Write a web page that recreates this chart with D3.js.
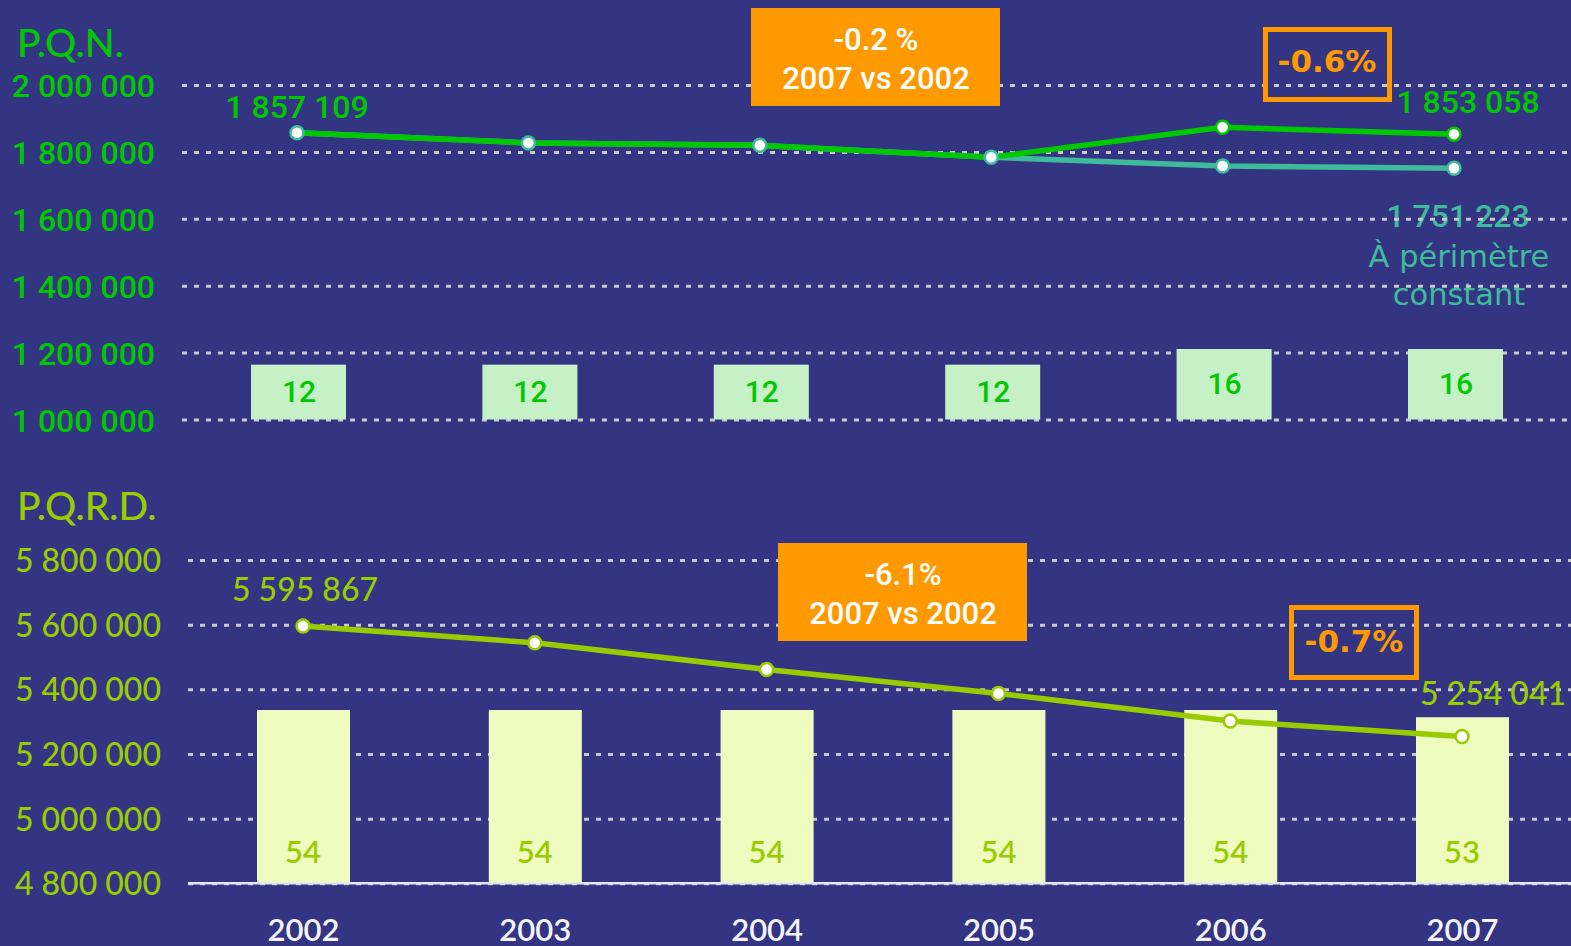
<!DOCTYPE html>
<html>
<head>
<meta charset="utf-8">
<script src="https://cdn.jsdelivr.net/npm/d3@7"></script>
<style>
  body { margin: 0; background: #333583; }
  svg { display: block; }
</style>
</head>
<body>
<svg id="chart" width="1571" height="946"></svg>
<script>
// data
const years = [2002, 2003, 2004, 2005, 2006, 2007];
const pqnValues = [1857109, 1826900, 1819800, 1783800, 1873600, 1853058];
const pqnConstant = [1857109, 1826900, 1819800, 1783800, 1758100, 1751223];
const pqnTitles = [12, 12, 12, 12, 16, 16];
const pqrdValues = [5595867, 5543700, 5461500, 5387300, 5301700, 5254041];
const pqrdTitles = [54, 54, 54, 54, 54, 53];
const pqnTicks = [1000000, 1200000, 1400000, 1600000, 1800000, 2000000];
const pqrdTicks = [4800000, 5000000, 5200000, 5400000, 5600000, 5800000];

const W = 1571, H = 946;
const bg = "#333583";
const green = "#00c800", teal = "#3dbb9b", lime = "#99cc00", orange = "#ff9900";

const svg = d3.select("#chart");
svg.append("rect").attr("width", W).attr("height", H).attr("fill", bg);

const fmt = (v) => d3.format(",")(v).replace(/,/g, " ");

// scales
const xTop = d3.scalePoint().domain(years).range([297, 1454]);
const xBot = d3.scalePoint().domain(years).range([303, 1462]);
const yTop = d3.scaleLinear().domain([1000000, 2000000]).range([419.5, 85]);
const yBot = d3.scaleLinear().domain([4800000, 5800000]).range([883.3, 560]);
const yTopBar = d3.scaleLinear().domain([-2, 16]).range([419.5, 349]);
const yBotBar = d3.scaleLinear().domain([30, 54]).range([883.3, 710]);

// ---------- top panel : P.Q.N. ----------
const topG = svg.append("g");

topG.append("text")
  .attr("x", 17).attr("y", 57)
  .attr("font-family", "Lato").attr("font-weight", 500).attr("font-size", 39)
  .attr("fill", green).text("P.Q.N.");

// teal label sits under the gridlines
const tealLab = topG.append("g")
  .attr("font-family", "DejaVu Sans").attr("fill", teal)
  .attr("text-anchor", "middle");
tealLab.append("text").attr("x", 1458).attr("y", 227)
  .attr("font-family", "Roboto").attr("font-weight", 500).attr("font-size", 32)
  .text(fmt(pqnConstant[5]));
tealLab.append("text").attr("x", 1459).attr("y", 267)
  .attr("font-size", 30.5).text("À périmètre");
tealLab.append("text").attr("x", 1459).attr("y", 305)
  .attr("font-size", 30.5).text("constant");

const topAxis = topG.append("g")
  .attr("transform", "translate(182,0)")
  .call(d3.axisLeft(yTop).tickValues(pqnTicks).tickFormat(fmt)
    .tickSize(-(W - 182)).tickPadding(27));
topAxis.select(".domain").remove();
topAxis.selectAll("line")
  .attr("stroke", "#c8c8c8").attr("stroke-width", 3)
  .attr("stroke-dasharray", "5,7");
topAxis.selectAll("text")
  .attr("font-family", "Roboto").attr("font-weight", 500).attr("font-size", 32)
  .attr("fill", green).attr("dy", "0.36em");

// count bars
topG.selectAll(".bar-top")
  .data(years)
  .join("rect")
  .attr("class", "bar-top")
  .attr("x", (d) => xTop(d) - 46)
  .attr("width", 95)
  .attr("y", (d, i) => yTopBar(pqnTitles[i]))
  .attr("height", (d, i) => yTopBar(-2) - yTopBar(pqnTitles[i]))
  .attr("fill", "#c6f0c6");

topG.selectAll(".bar-top-label")
  .data(years)
  .join("text")
  .attr("class", "bar-top-label")
  .attr("x", (d) => xTop(d) + 2)
  .attr("y", (d, i) => (yTopBar(pqnTitles[i]) + yTopBar(-2)) / 2 + 10)
  .attr("text-anchor", "middle")
  .attr("font-family", "Roboto").attr("font-weight", 500).attr("font-size", 30)
  .attr("fill", green)
  .text((d, i) => pqnTitles[i]);

// lines
const lineTop = (vals) => d3.line()
  .x((d) => xTop(d))
  .y((d, i) => yTop(vals[i]))(years);

topG.append("path").attr("d", lineTop(pqnConstant))
  .attr("fill", "none").attr("stroke", teal).attr("stroke-width", 5.5);
topG.append("path").attr("d", lineTop(pqnValues))
  .attr("fill", "none").attr("stroke", green).attr("stroke-width", 5.5);

topG.selectAll(".pt-green")
  .data(years.slice(4))
  .join("circle")
  .attr("class", "pt-green")
  .attr("cx", (d) => xTop(d))
  .attr("cy", (d, i) => yTop(pqnValues[i + 4]))
  .attr("r", 6.5).attr("fill", "white")
  .attr("stroke", green).attr("stroke-width", 2.5);
topG.selectAll(".pt-teal")
  .data(years)
  .join("circle")
  .attr("class", "pt-teal")
  .attr("cx", (d) => xTop(d))
  .attr("cy", (d, i) => yTop(pqnConstant[i]))
  .attr("r", 6.5).attr("fill", "white")
  .attr("stroke", teal).attr("stroke-width", 2.5);

// value labels
topG.append("text").attr("x", xTop(2002)).attr("y", 118)
  .attr("text-anchor", "middle").attr("font-family", "Roboto").attr("font-weight", 500)
  .attr("font-size", 32).attr("fill", green).text(fmt(pqnValues[0]));
topG.append("text").attr("x", 1468).attr("y", 113)
  .attr("text-anchor", "middle").attr("font-family", "Roboto").attr("font-weight", 500)
  .attr("font-size", 32).attr("fill", green).text(fmt(pqnValues[5]));

// filled orange note
topG.append("rect").attr("x", 751).attr("y", 8)
  .attr("width", 249).attr("height", 98).attr("fill", orange);
topG.append("text").attr("x", 876).attr("y", 50)
  .attr("text-anchor", "middle").attr("font-family", "Roboto").attr("font-weight", 500)
  .attr("font-size", 31).attr("fill", "white").text("-0.2 %");
topG.append("text").attr("x", 876).attr("y", 89)
  .attr("text-anchor", "middle").attr("font-family", "Roboto").attr("font-weight", 500)
  .attr("font-size", 31).attr("fill", "white").text("2007 vs 2002");

// outlined orange note
topG.append("rect").attr("x", 1265.5).attr("y", 29.5)
  .attr("width", 124).attr("height", 70)
  .attr("fill", "none").attr("stroke", orange).attr("stroke-width", 5);
topG.append("text").attr("x", 1327).attr("y", 72)
  .attr("text-anchor", "middle").attr("font-family", "DejaVu Sans")
  .attr("font-weight", "bold").attr("font-size", 31)
  .attr("fill", orange).text("-0.6%");

// ---------- bottom panel : P.Q.R.D. ----------
const botG = svg.append("g");

botG.append("text")
  .attr("x", 17).attr("y", 520)
  .attr("font-family", "Lato").attr("font-weight", 500).attr("font-size", 39)
  .attr("fill", lime).text("P.Q.R.D.");

const botAxis = botG.append("g")
  .attr("transform", "translate(188,0)")
  .call(d3.axisLeft(yBot).tickValues(pqrdTicks).tickFormat(fmt)
    .tickSize(-(W - 188)).tickPadding(27));
botAxis.select(".domain").remove();
botAxis.selectAll("line")
  .attr("stroke", "#c8c8c8").attr("stroke-width", 3)
  .attr("stroke-dasharray", "5,7");
botAxis.selectAll("text")
  .attr("font-family", "Lato").attr("font-weight", 500).attr("font-size", 32)
  .attr("fill", lime).attr("dy", "0.36em");

botG.selectAll(".bar-bot")
  .data(years)
  .join("rect")
  .attr("class", "bar-bot")
  .attr("x", (d) => xBot(d) - 46)
  .attr("width", 93)
  .attr("y", (d, i) => yBotBar(pqrdTitles[i]))
  .attr("height", (d, i) => yBotBar(30) - yBotBar(pqrdTitles[i]))
  .attr("fill", "#effcc0");

botG.selectAll(".bar-bot-label")
  .data(years)
  .join("text")
  .attr("class", "bar-bot-label")
  .attr("x", (d) => xBot(d))
  .attr("y", 863)
  .attr("text-anchor", "middle")
  .attr("font-family", "Lato").attr("font-weight", 600).attr("font-size", 31)
  .attr("fill", lime)
  .text((d, i) => pqrdTitles[i]);

// solid baseline
botG.append("line")
  .attr("x1", 188).attr("x2", W)
  .attr("y1", yBot(4800000)).attr("y2", yBot(4800000))
  .attr("stroke", "#e4e6f4").attr("stroke-width", 2.5);

botG.append("path")
  .attr("d", d3.line().x((d) => xBot(d)).y((d, i) => yBot(pqrdValues[i]))(years))
  .attr("fill", "none").attr("stroke", lime).attr("stroke-width", 5.5);

botG.selectAll(".pt-lime")
  .data(years)
  .join("circle")
  .attr("class", "pt-lime")
  .attr("cx", (d) => xBot(d))
  .attr("cy", (d, i) => yBot(pqrdValues[i]))
  .attr("r", 6.5).attr("fill", "white")
  .attr("stroke", lime).attr("stroke-width", 2.5);

botG.append("text").attr("x", 305).attr("y", 601)
  .attr("text-anchor", "middle").attr("font-family", "Lato").attr("font-weight", 500)
  .attr("font-size", 32).attr("fill", lime).text(fmt(pqrdValues[0]));
botG.append("text").attr("x", 1493).attr("y", 705)
  .attr("text-anchor", "middle").attr("font-family", "Lato").attr("font-weight", 500)
  .attr("font-size", 32).attr("fill", lime).text(fmt(pqrdValues[5]));

botG.append("rect").attr("x", 778).attr("y", 543)
  .attr("width", 249).attr("height", 98).attr("fill", orange);
botG.append("text").attr("x", 903).attr("y", 585)
  .attr("text-anchor", "middle").attr("font-family", "Roboto").attr("font-weight", 500)
  .attr("font-size", 31).attr("fill", "white").text("-6.1%");
botG.append("text").attr("x", 903).attr("y", 624)
  .attr("text-anchor", "middle").attr("font-family", "Roboto").attr("font-weight", 500)
  .attr("font-size", 31).attr("fill", "white").text("2007 vs 2002");

botG.append("rect").attr("x", 1291.5).attr("y", 607.5)
  .attr("width", 125).attr("height", 70)
  .attr("fill", "none").attr("stroke", orange).attr("stroke-width", 5);
botG.append("text").attr("x", 1354).attr("y", 652)
  .attr("text-anchor", "middle").attr("font-family", "DejaVu Sans")
  .attr("font-weight", "bold").attr("font-size", 31)
  .attr("fill", orange).text("-0.7%");

// year axis
const xAxisG = svg.append("g")
  .attr("transform", "translate(0,883)")
  .call(d3.axisBottom(xBot).tickSize(0).tickPadding(0).tickFormat(d3.format("d")));
xAxisG.select(".domain").remove();
xAxisG.selectAll("text")
  .attr("y", 58).attr("dy", 0)
  .attr("font-family", "Lato").attr("font-weight", 600)
  .attr("font-size", 31).attr("fill", "#f4f4ff");
</script>
</body>
</html>
